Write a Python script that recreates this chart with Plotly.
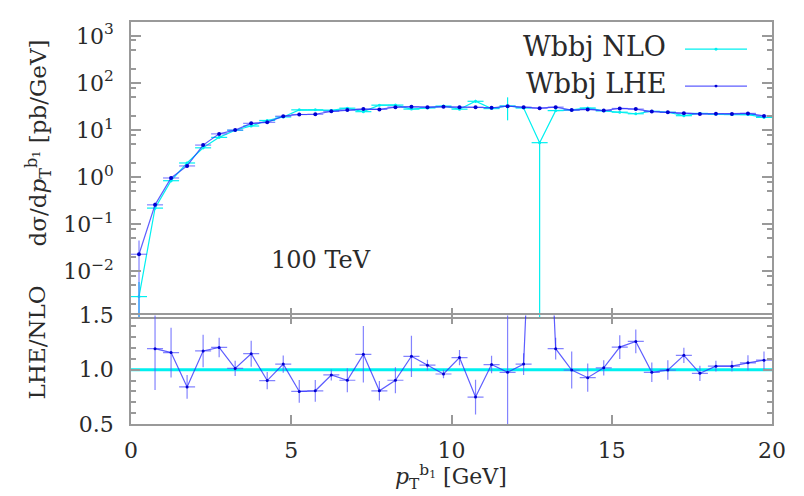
import plotly.graph_objects as go

# ---------------- data ----------------
pt_centers = [0.25, 0.75, 1.25, 1.75, 2.25, 2.75, 3.25, 3.75, 4.25, 4.75,
              5.25, 5.75, 6.25, 6.75, 7.25, 7.75, 8.25, 8.75, 9.25, 9.75,
              10.25, 10.75, 11.25, 11.75, 12.25, 12.75, 13.25, 13.75, 14.25, 14.75,
              15.25, 15.75, 16.25, 16.75, 17.25, 17.75, 18.25, 18.75, 19.25, 19.75]
half_bin = [0.25] * 40
pt_edges = [0.0, 20.0]

lhe = [0.023, 0.258, 0.96, 1.73, 4.8, 8.3, 10.0, 13.9, 14.6, 19.7,
       21.4, 21.7, 25.0, 26.6, 27.9, 27.5, 30.7, 31.3, 30.7, 31.3,
       30.7, 30.7, 29.8, 32.1, 30.7, 29.2, 30.7, 26.6, 27.5, 26.0,
       28.8, 27.9, 24.7, 23.8, 22.7, 22.0, 22.2, 22.0, 22.6, 20.0]
lhe_err = [0.022, 0.03, 0.08, 0.1, 0.3, 0.4, 0.4, 0.6, 0.6, 0.7,
           0.7, 0.7, 0.8, 0.8, 0.9, 0.9, 0.9, 0.9, 0.9, 0.9,
           0.9, 0.9, 0.9, 0.9, 0.9, 0.9, 0.9, 0.8, 0.8, 0.8,
           0.8, 0.8, 0.7, 0.7, 0.7, 0.7, 0.7, 0.7, 0.7, 0.7]

nlo = [0.0029, 0.22, 0.84, 2.0, 4.2, 7.0, 9.9, 12.2, 16.0, 19.0,
       26.9, 27.0, 26.2, 29.2, 24.6, 33.8, 34.0, 27.9, 29.5, 32.4,
       27.8, 40.9, 28.6, 32.6, 29.4, 5.4, 25.9, 26.8, 29.5, 25.6,
       24.0, 22.2, 25.1, 23.9, 20.2, 22.6, 21.6, 21.4, 21.3, 18.6]
nlo_err_up = [0.003, 0.02, 0.06, 0.12, 0.3, 0.4, 0.5, 0.6, 0.7, 0.8,
              1.0, 1.0, 1.0, 1.0, 1.0, 1.2, 1.2, 1.0, 1.0, 1.0,
              1.0, 3.0, 1.0, 17.0, 1.0, 0.3, 1.0, 1.0, 1.0, 1.0,
              1.0, 1.0, 1.0, 1.0, 0.8, 0.8, 0.8, 0.8, 0.8, 0.8]
nlo_err_dn = [0.0028999, 0.02, 0.06, 0.12, 0.3, 0.4, 0.5, 0.6, 0.7, 0.8,
              1.0, 1.0, 1.0, 1.0, 1.0, 1.2, 1.2, 1.0, 1.0, 1.0,
              1.0, 3.0, 1.0, 16.5, 1.0, 5.39999, 1.0, 1.0, 1.0, 1.0,
              1.0, 1.0, 1.0, 1.0, 0.8, 0.8, 0.8, 0.8, 0.8, 0.8]

ratio = [None, 1.194, 1.158, 0.842, 1.173, 1.206, 1.012, 1.148, 0.90, 1.052,
         0.80, 0.806, 0.952, 0.903, 1.142, 0.806, 0.903, 1.124, 1.042, 0.961,
         1.112, 0.748, 1.048, 0.976, 1.052, 4.5, 1.194, 0.997, 0.927, 1.018,
         1.209, 1.261, 0.976, 0.997, 1.133, 0.967, 1.033, 1.033, 1.064, 1.088]
ratio_err = [0.0, 0.38, 0.23, 0.11, 0.15, 0.09, 0.07, 0.12, 0.08, 0.08,
             0.105, 0.10, 0.05, 0.11, 0.26, 0.09, 0.12, 0.19, 0.05, 0.04,
             0.07, 0.16, 0.08, 0.60, 0.10, 0.0, 0.10, 0.17, 0.13, 0.07,
             0.11, 0.11, 0.09, 0.09, 0.07, 0.07, 0.05, 0.05, 0.07, 0.08]
nlo_ratio = [1.0, 1.0]

x_ticks = [0, 5, 10, 15, 20]
y_major = [1e-2, 1e-1, 1e0, 1e1, 1e2, 1e3]
y_major_text = ["10<sup>−2</sup>", "10<sup>−1</sup>", "10<sup>0</sup>",
                "10<sup>1</sup>", "10<sup>2</sup>", "10<sup>3</sup>"]
y_minor = [0.002, 0.005, 0.008, 0.02, 0.05, 0.08, 0.2, 0.5, 0.8, 2, 5, 8,
           20, 50, 80, 200, 500, 800, 2000]
r_major = [0.5, 1.0, 1.5]
r_major_text = ["0.5", "1.0", "1.5"]

# ---------------- style ----------------
FONT = "DejaVu Serif"
CYAN = "#00f0f0"
BLUE_LINE = "rgba(40,40,255,0.75)"
BLUE_ERR = "rgba(90,90,255,0.75)"
BLUE_DOT = "#0000d0"
FRAME = "#999999"
TXT = "#2a2a2a"

fig = go.Figure()

# top panel: NLO
fig.add_trace(go.Scatter(
    x=pt_centers, y=nlo, mode="lines+markers", xaxis="x", yaxis="y",
    line=dict(color=CYAN, width=1.2),
    marker=dict(color=CYAN, size=3),
    error_x=dict(type="data", array=half_bin, color=CYAN, thickness=1.2, width=0),
    error_y=dict(type="data", symmetric=False, array=nlo_err_up, arrayminus=nlo_err_dn,
                 color=CYAN, thickness=1.2, width=0),
    showlegend=False))
# top panel: LHE
fig.add_trace(go.Scatter(
    x=pt_centers, y=lhe, mode="lines+markers", xaxis="x", yaxis="y",
    line=dict(color=BLUE_LINE, width=1.2),
    marker=dict(color=BLUE_DOT, size=4),
    error_x=dict(type="data", array=half_bin, color=BLUE_ERR, thickness=1.2, width=0),
    error_y=dict(type="data", array=lhe_err, color=BLUE_ERR, thickness=1.2, width=0),
    showlegend=False))

# ratio panel
fig.add_trace(go.Scatter(
    x=pt_edges, y=nlo_ratio, mode="lines", xaxis="x2", yaxis="y2",
    line=dict(color=CYAN, width=3), showlegend=False))
fig.add_trace(go.Scatter(
    x=pt_centers, y=ratio, mode="lines+markers", xaxis="x2", yaxis="y2",
    line=dict(color=BLUE_LINE, width=1.2),
    marker=dict(color=BLUE_DOT, size=3),
    error_x=dict(type="data", array=half_bin, color=BLUE_ERR, thickness=1.2, width=0),
    error_y=dict(type="data", array=ratio_err, color=BLUE_ERR, thickness=1.2, width=0),
    showlegend=False))

axis_common = dict(showline=True, linecolor=FRAME, linewidth=1.5, showgrid=False,
                   zeroline=False, ticks="inside", tickcolor=FRAME, tickwidth=1.5,
                   tickfont=dict(family=FONT, size=22, color=TXT))

# overlap the domains by the line width so the shared frame line is single
split_top = (111 - 0.75) / 414
split_bot = (111 + 0.75) / 414

fig.update_layout(
    width=804, height=496,
    margin=dict(l=131, r=32, t=10, b=72),
    paper_bgcolor="white", plot_bgcolor="rgba(0,0,0,0)",
    font=dict(family=FONT, color=TXT),
    xaxis=dict(axis_common, domain=[0, 1], anchor="y", range=[0, 20],
               tickmode="array", tickvals=x_ticks, ticklen=9, mirror=True,
               showticklabels=False),
    yaxis=dict(axis_common, domain=[split_top, 1], anchor="x", type="log",
               range=[-2.97, 3.296], tickmode="array", tickvals=y_major,
               ticktext=y_major_text, ticklen=10, mirror="ticks",
               ticklabelstandoff=11,
               minor=dict(tickmode="array", tickvals=y_minor, ticklen=5,
                          ticks="inside", tickcolor=FRAME, tickwidth=1.5)),
    xaxis2=dict(axis_common, domain=[0, 1], anchor="y2", range=[0, 20],
                tickmode="array", tickvals=x_ticks, ticklen=9, mirror="ticks",
                ticklabelstandoff=6),
    yaxis2=dict(axis_common, domain=[0, split_bot], anchor="x2", range=[0.5, 1.5],
                tickmode="array", tickvals=r_major, ticktext=r_major_text,
                ticklen=9, mirror="ticks", ticklabelstandoff=11,
                minor=dict(dtick=0.1, tick0=0.5, ticklen=5, ticks="inside",
                           tickcolor=FRAME, tickwidth=1.5)),
)

annotations = [
    dict(text="dσ/d<i>p</i><sub>T</sub><sup>b<sub>1</sub></sup> [pb/GeV]",
         x=38, y=135, textangle=-90, size=23),
    dict(text="LHE/NLO", x=37, y=340, textangle=-90, size=23),
    dict(text="<i>p</i><sub>T</sub><sup>b<sub>1</sub></sup> [GeV]", x=451, y=479,
         textangle=0, size=22),
    dict(text="100 TeV", x=321, y=255, textangle=0, size=24),
]
for a in annotations:
    fig.add_annotation(text=a["text"], xref="paper", yref="paper",
                       x=(a["x"] - 131) / 641, y=(424 - a["y"]) / 414,
                       xanchor="center", yanchor="middle", showarrow=False,
                       textangle=a["textangle"],
                       font=dict(family=FONT, size=a["size"], color=TXT))

# legend (label, then sample line to its right)
legend_rows = [("Wbbj NLO", CYAN, 35), ("Wbbj LHE", BLUE_LINE, 73)]
for label, col, yc in legend_rows:
    fig.add_annotation(text=label, xref="paper", yref="paper",
                       x=(668 - 131) / 641, y=(424 - yc) / 414,
                       xanchor="right", yanchor="middle", showarrow=False,
                       font=dict(family=FONT, size=27, color=TXT))
    ys = (424 - (yc + 3)) / 414
    fig.add_shape(type="line", xref="paper", yref="paper",
                  x0=(685 - 131) / 641, x1=(747 - 131) / 641, y0=ys, y1=ys,
                  line=dict(color=col, width=1.2))
    fig.add_shape(type="circle", xref="paper", yref="paper",
                  x0=(714.5 - 131) / 641, x1=(717.5 - 131) / 641,
                  y0=ys - 1.5 / 414, y1=ys + 1.5 / 414,
                  fillcolor=(BLUE_DOT if col != CYAN else CYAN),
                  line=dict(width=0))

fig.write_html("out.html")
